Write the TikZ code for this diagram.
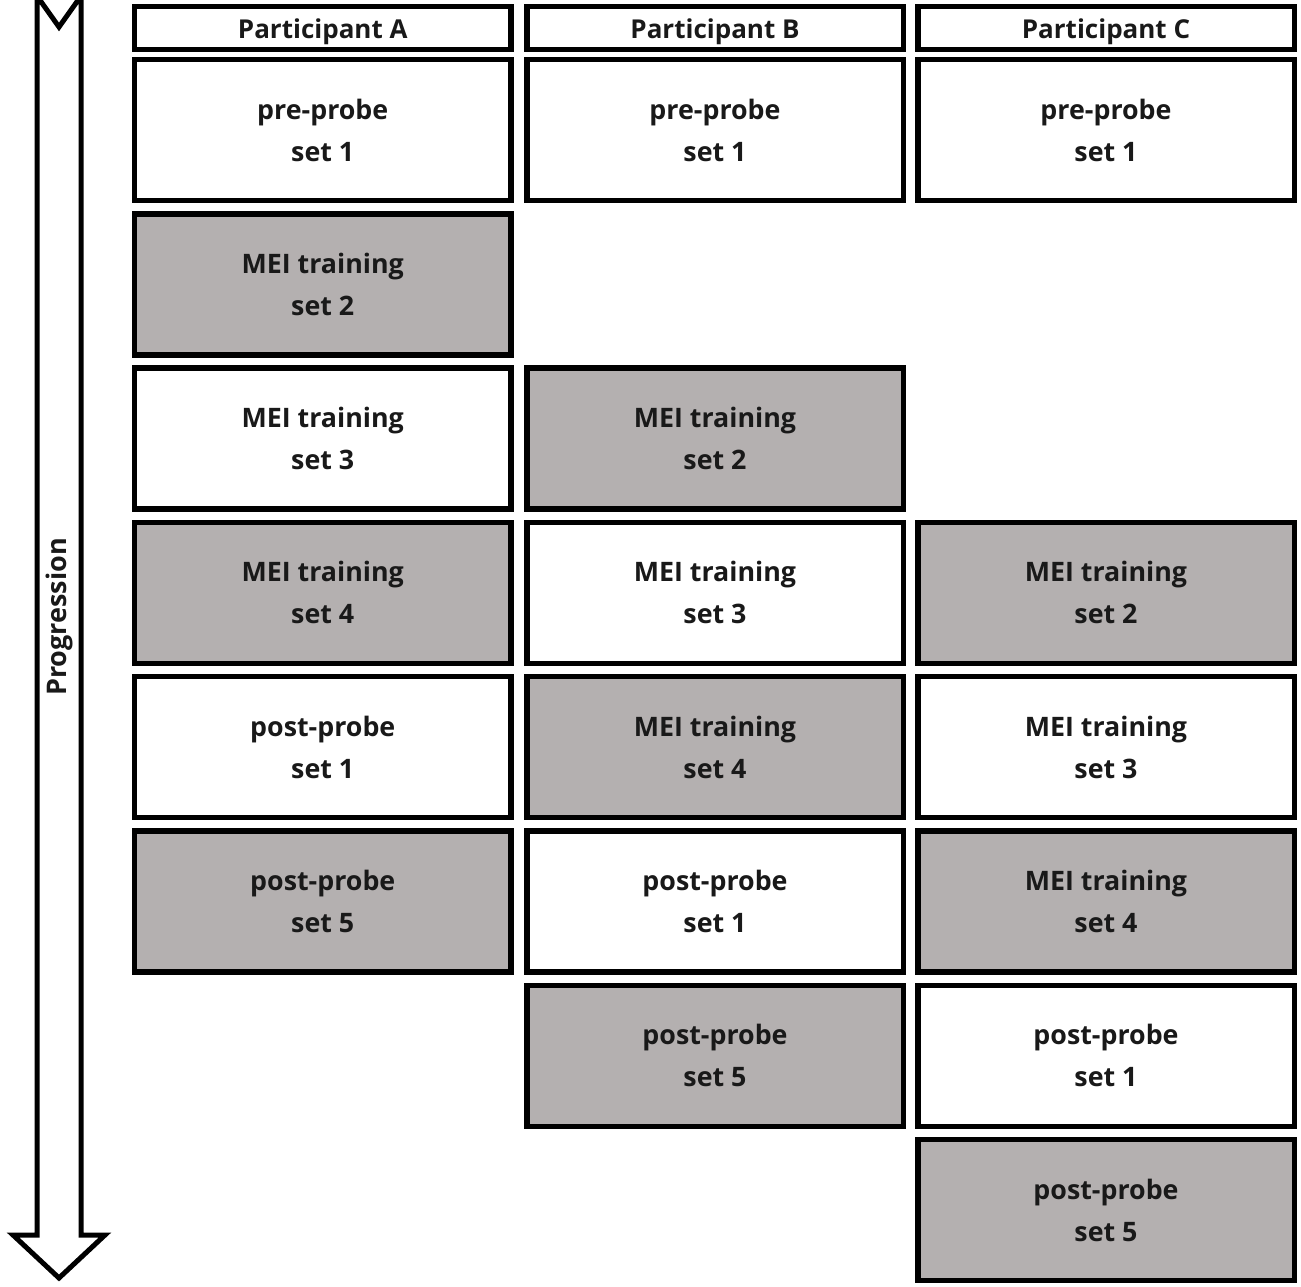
\documentclass[tikz,border=0pt]{standalone}
\usepackage{fontspec}
\setmainfont{Open Sans}
\definecolor{boxgray}{RGB}{180,176,176}
\begin{document}
\begin{tikzpicture}[x=1pt,y=-1pt,
  cell/.style={draw=black, line width=5.5pt, minimum width=376.5pt, minimum height=141pt,
    inner sep=0pt, align=center, font=\bfseries\fontsize{26.8}{42}\selectfont, text=black!90},
  wcell/.style={cell, fill=white},
  gcell/.style={cell, fill=boxgray},
  head/.style={draw=black, line width=5.5pt, minimum width=376.5pt, minimum height=43pt,
    inner sep=0pt, text height=22pt, text depth=0pt, font=\bfseries\fontsize{26}{28}\selectfont, text=black!90},
  arrowshape/.style={draw=black, line width=5pt, fill=white, miter limit=20}]
\useasboundingbox (0,0) rectangle (1301,1287);
% progression arrow
\draw[arrowshape] (37,-4) -- (59,27) -- (81,-4) -- (81,1235) -- (105,1235) -- (59,1278) -- (13,1235) -- (37,1235) -- cycle;
\node[rotate=90, font=\bfseries\fontsize{27}{28}\selectfont, text=black!90] (prog) at (59,617) {Progression};
% headers
\node[head] (hA) at (322.75,28) {Participant A};
\node[head] (hB) at (715,28) {Participant B};
\node[head] (hC) at (1106,28) {Participant C};
% column A
\node[wcell] (a1) at (322.75,130) {pre-probe\\set 1};
\node[gcell] (a2) at (322.75,284.3) {MEI training\\set 2};
\node[wcell] (a3) at (322.75,438.6) {MEI training\\set 3};
\node[gcell] (a4) at (322.75,592.9) {MEI training\\set 4};
\node[wcell] (a5) at (322.75,747.2) {post-probe\\set 1};
\node[gcell] (a6) at (322.75,901.5) {post-probe\\set 5};
% column B
\node[wcell] (b1) at (715,130) {pre-probe\\set 1};
\node[gcell] (b3) at (715,438.6) {MEI training\\set 2};
\node[wcell] (b4) at (715,592.9) {MEI training\\set 3};
\node[gcell] (b5) at (715,747.2) {MEI training\\set 4};
\node[wcell] (b6) at (715,901.5) {post-probe\\set 1};
\node[gcell] (b7) at (715,1055.8) {post-probe\\set 5};
% column C
\node[wcell] (c1) at (1106,130) {pre-probe\\set 1};
\node[gcell] (c4) at (1106,592.9) {MEI training\\set 2};
\node[wcell] (c5) at (1106,747.2) {MEI training\\set 3};
\node[gcell] (c6) at (1106,901.5) {MEI training\\set 4};
\node[wcell] (c7) at (1106,1055.8) {post-probe\\set 1};
\node[gcell] (c8) at (1106,1210.1) {post-probe\\set 5};
\end{tikzpicture}
\end{document}
